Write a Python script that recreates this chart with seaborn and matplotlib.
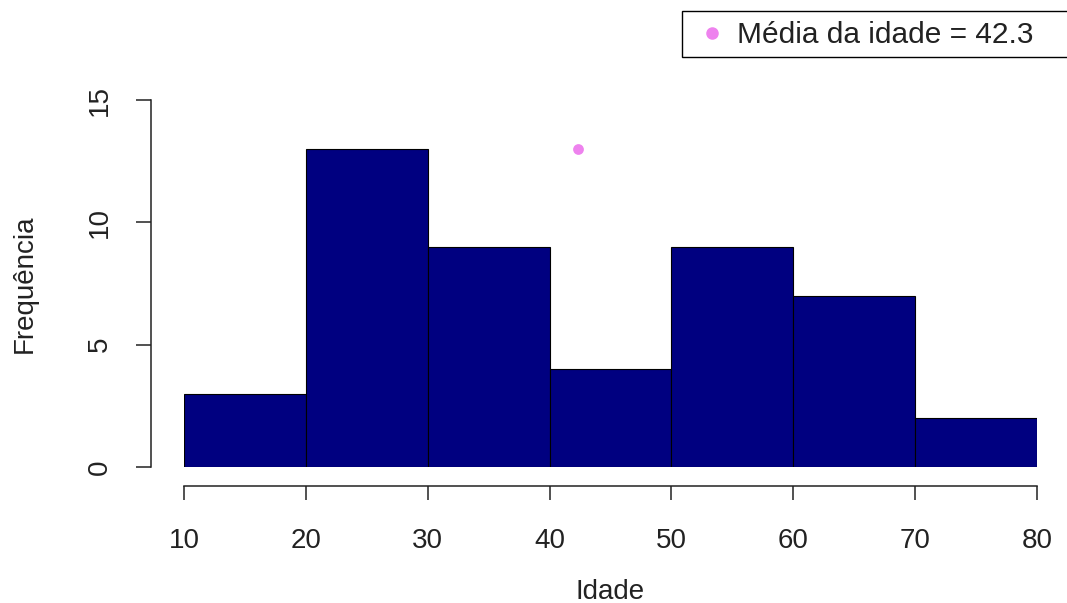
import pandas as pd
import seaborn as sns
from matplotlib import pyplot as plt
from matplotlib.lines import Line2D
from matplotlib.patches import Rectangle

# idades agrupadas de 10 em 10 anos
bin_edges = [10, 20, 30, 40, 50, 60, 70, 80]
counts = [3, 13, 9, 4, 9, 7, 2]
media_idade = 42.3
ponto_y = 13  # altura do ponto da media

x_ticks = [10, 20, 30, 40, 50, 60, 70, 80]
y_ticks = [0, 5, 10, 15]

sns.set_style('white')
plt.rcParams['font.family'] = ['Liberation Sans', 'DejaVu Sans']
plt.rcParams['text.color'] = '#222222'
plt.rcParams['axes.labelcolor'] = '#222222'
plt.rcParams['xtick.color'] = '#222222'
plt.rcParams['ytick.color'] = '#222222'

mids = [(a + b) / 2 for a, b in zip(bin_edges[:-1], bin_edges[1:])]
df = pd.DataFrame({'idade': mids, 'freq': counts})

fig = plt.figure(figsize=(10.67, 6.03), dpi=100)
ax = fig.add_axes([184 / 1067, 136 / 603, 853 / 1067, 367 / 603])

sns.histplot(data=df, x='idade', weights='freq', bins=bin_edges,
             color='navy', edgecolor='black', linewidth=0.8, alpha=1, ax=ax)
ax.scatter([media_idade], [ponto_y], color='violet', s=60, zorder=3, linewidths=0)

ax.set_xlim(10, 80)
ax.set_ylim(0, 15)
ax.set_xticks(x_ticks)
ax.set_yticks(y_ticks)

# eixos estilo R (destacados)
for s in ['top', 'right']:
    ax.spines[s].set_visible(False)
ax.spines['left'].set_position(('outward', 24))
ax.spines['bottom'].set_position(('outward', 14))
ax.spines['left'].set_bounds(0, 15)
ax.spines['bottom'].set_bounds(10, 80)
for s in ['left', 'bottom']:
    ax.spines[s].set_linewidth(1.1)
    ax.spines[s].set_color('#222222')

ax.tick_params(axis='x', bottom=True, length=10, width=1.1, labelsize=20, pad=20)
ax.tick_params(axis='y', left=True, length=11, width=1.1, labelsize=20, pad=16, labelrotation=90)
for lab in ax.get_yticklabels():
    lab.set_va('center')

ax.set_xlabel('Idade', fontsize=20)
ax.set_ylabel('Frequência', fontsize=20)
ax.xaxis.set_label_coords(0.5, (467 - 592) / 367)
ax.xaxis.label.set_va('center')
ax.yaxis.set_label_coords((25 - 184) / 853, 0.5)
ax.yaxis.label.set_va('center')

# legenda no canto superior direito, caixa sai da figura como no original
fig.add_artist(Rectangle((682 / 1067, 1 - 57 / 603), 400 / 1067, 46 / 603,
                         transform=fig.transFigure, facecolor='white',
                         edgecolor='black', linewidth=1.0, clip_on=False))
handle = Line2D([], [], marker='o', color='violet', linestyle='none', markersize=8)
fig.legend([handle], ['Média da idade = 42.3'], loc='center left',
           bbox_to_anchor=(697 / 1067, 1 - 35 / 603), fontsize=21.5,
           frameon=False, borderpad=0, handletextpad=0.35, handlelength=1.0,
           borderaxespad=0)

fig.savefig('out.png', dpi=100)
